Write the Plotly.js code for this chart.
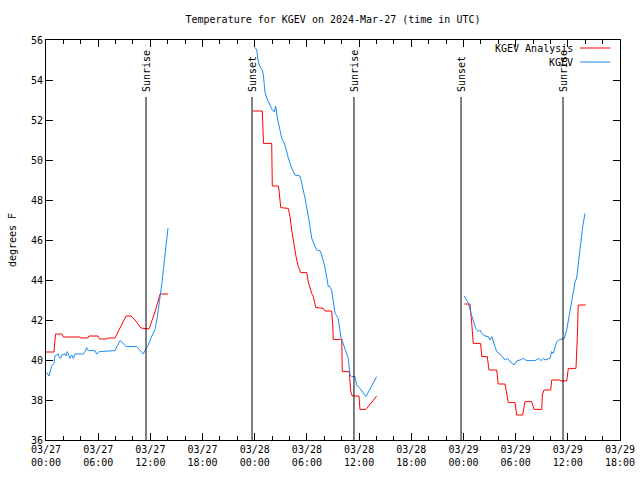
<!DOCTYPE html>
<html>
<head>
<meta charset="utf-8">
<script src="https://cdn.plot.ly/plotly-3.0.1.min.js"></script>
<style>html,body{margin:0;padding:0;background:#fff;}#chart{width:640px;height:480px;}</style>
</head>
<body>
<div id="chart"></div>
<script>
// Hours after 2024-03-27 00:00 UTC; null breaks the line between segments
const analysisHours = [
  0.0, 0.92, 1.09, 1.84, 2.01, 3.91, 4.02, 4.83, 4.94, 5.98, 6.15, 6.90, 7.13, 7.93, 8.51, 9.2, 9.77, 10.23, 10.92, 11.5, 11.84, 12.53, 13.11, 14.03,
  null,
  23.80, 24.87, 25.01, 25.95, 26.02, 26.71, 26.79, 26.99, 27.86, 28.06, 28.25, 28.52, 28.75, 29.01, 29.29, 29.98, 30.16, 30.55, 30.74, 31.01, 31.88, 32.08, 32.85, 32.97, 33.03, 34.0, 34.07, 34.87, 35.04, 35.22, 35.99, 36.10, 36.79, 38.02,
  null,
  48.1, 48.75, 48.95, 49.13, 49.98, 50.1, 50.74, 50.94, 51.82, 52.0, 52.78, 52.97, 53.16, 53.93, 54.12, 54.81, 55.08, 55.85, 56.11, 57.0, 57.07, 57.26, 58.03, 58.15, 59.1, 59.22, 59.87, 60.06, 60.94, 61.09, 61.2, 62.06
];
const analysisTemps = [
  40.4, 40.4, 41.3, 41.3, 41.15, 41.15, 41.1, 41.1, 41.2, 41.2, 41.05, 41.05, 41.1, 41.1, 41.6, 42.2, 42.2, 42.0, 41.6, 41.55, 41.55, 42.4, 43.3, 43.3,
  null,
  52.45, 52.45, 50.83, 50.83, 48.7, 48.7, 48.5, 47.62, 47.58, 47.17, 46.5, 45.75, 45.17, 44.67, 44.37, 44.37, 43.9, 43.33, 43.17, 42.63, 42.58, 42.45, 42.45, 41.75, 41.03, 41.03, 39.42, 39.42, 38.42, 38.2, 38.2, 37.53, 37.53, 38.2,
  null,
  42.8, 42.8, 41.83, 40.83, 40.83, 40.17, 40.17, 39.5, 39.5, 38.8, 38.8, 38.25, 37.87, 37.87, 37.25, 37.25, 37.92, 37.92, 37.53, 37.53, 38.25, 38.5, 38.5, 39.0, 39.0, 38.95, 38.95, 39.58, 39.58, 41.13, 42.75, 42.75
];
const obsHours = [
  0.08, 0.34, 0.66, 0.92, 1.03, 1.23, 1.41, 1.53, 1.69, 1.81, 2.18, 2.30, 2.45, 2.61, 2.76, 2.96, 3.14, 3.33, 4.29, 4.48, 4.68, 4.86, 5.63, 5.83, 6.13, 7.93, 8.2, 8.51, 8.82, 9.2, 10.43, 10.81, 11.19, 11.5, 11.76, 12.15, 12.53, 12.8, 13.03, 13.19, 13.37, 13.68, 14.03,
  null,
  24.03, 24.23, 24.34, 24.49, 24.69, 24.87, 24.99, 25.18, 25.38, 25.76, 26.02, 26.25, 26.41, 26.6, 26.91, 27.1, 27.48, 27.86, 28.25, 28.63, 29.21, 29.4, 29.78, 30.16, 30.55, 30.93, 31.13, 31.5, 31.7, 32.08, 32.46, 32.57, 32.85, 33.23, 33.61, 33.89, 34.18, 34.57, 34.76, 34.95, 35.15, 35.53, 35.72, 36.1, 36.79, 38.02,
  null,
  48.10, 48.26, 48.56, 48.87, 49.13, 49.41, 49.71, 49.9, 50.1, 50.48, 50.86, 51.05, 51.25, 51.43, 51.63, 51.82, 52.2, 52.58, 52.78, 53.09, 53.35, 53.85, 54.12, 54.5, 54.88, 55.27, 56.23, 56.61, 56.92, 57.18, 57.38, 57.95, 58.15, 58.33, 58.72, 58.99, 59.37, 59.6, 59.87, 60.06, 60.25, 60.52, 60.83, 61.02, 61.2, 61.4, 61.6, 61.71, 61.98
];
const obsTemps = [
  39.38, 39.2, 39.7, 39.83, 40.2, 40.25, 40.3, 40.13, 40.08, 40.25, 40.3, 40.2, 40.42, 40.25, 40.08, 40.25, 40.08, 40.3, 40.3, 40.42, 40.62, 40.47, 40.47, 40.3, 40.42, 40.47, 40.67, 40.97, 40.87, 40.67, 40.67, 40.47, 40.3, 40.58, 40.75, 41.17, 41.53, 42.13, 42.83, 43.3, 44.0, 45.25, 46.6,
  null,
  55.63, 55.5, 55.1, 54.8, 54.6, 54.5, 54.25, 53.4, 53.1, 52.75, 52.5, 52.4, 52.7, 52.1, 51.5, 51.1, 50.75, 50.1, 49.6, 49.25, 49.2, 48.85, 48.1, 47.2, 46.1, 45.67, 45.5, 45.47, 45.25, 44.63, 43.67, 43.7, 43.5, 42.33, 42.08, 41.17, 40.83, 40.33, 40.08, 39.25, 39.17, 39.17, 38.75, 38.58, 38.17, 39.17,
  null,
  43.2, 43.08, 42.83, 42.33, 42.0, 41.58, 41.42, 41.5, 41.33, 41.2, 41.17, 41.0, 41.17, 40.92, 40.67, 40.42, 40.3, 40.13, 40.0, 40.08, 39.92, 39.75, 39.95, 40.0, 40.08, 39.97, 39.97, 40.08, 39.97, 40.08, 40.0, 40.08, 40.42, 40.33, 40.92, 41.0, 41.03, 41.08, 41.5, 42.0, 42.5, 43.2, 43.9, 44.1, 44.75, 45.58, 46.08, 46.67, 47.33
];
const sunEventHours = [11.5, 23.69, 35.41, 47.72, 59.45];
const sunEventLabels = ['Sunrise', 'Sunset', 'Sunrise', 'Sunset', 'Sunrise'];
const xTickHours = [0, 6, 12, 18, 24, 30, 36, 42, 48, 54, 60, 66];
const xTickLabels = ['03/27<br>00:00', '03/27<br>06:00', '03/27<br>12:00', '03/27<br>18:00',
  '03/28<br>00:00', '03/28<br>06:00', '03/28<br>12:00', '03/28<br>18:00',
  '03/29<br>00:00', '03/29<br>06:00', '03/29<br>12:00', '03/29<br>18:00'];
const seriesNames = ['KGEV Analysis', 'KGEV'];
const seriesColors = ['#ff0000', '#1e8cf0'];

function toDate(h) {
  if (h === null) return null;
  const d = new Date(Date.UTC(2024, 2, 27) + Math.round(h * 3600000));
  return d.toISOString().slice(0, 19).replace('T', ' ');
}

const font = {family: 'DejaVu Sans Mono, monospace', size: 10, color: '#000'};

const traces = [
  {x: analysisHours.map(toDate), y: analysisTemps, name: seriesNames[0], mode: 'lines',
   line: {color: seriesColors[0], width: 1}, connectgaps: false, showlegend: false},
  {x: obsHours.map(toDate), y: obsTemps, name: seriesNames[1], mode: 'lines',
   line: {color: seriesColors[1], width: 1}, connectgaps: false, showlegend: false}
];

const shapes = [];
const annotations = [];
sunEventHours.forEach((h, i) => {
  shapes.push({type: 'line', xref: 'x', yref: 'y', x0: toDate(h), x1: toDate(h), y0: 36, y1: 53.15,
    line: {color: '#000', width: 1}});
  annotations.push({xref: 'x', yref: 'y', x: toDate(h), y: 53.3, text: sunEventLabels[i],
    textangle: -90, showarrow: false, xanchor: 'center', yanchor: 'bottom', font: font});
});
// gnuplot-style legend (text on the left, sample line on the right)
seriesNames.forEach((n, i) => {
  const yp = i === 0 ? 0.98 : 0.945;
  annotations.push({xref: 'paper', yref: 'paper', x: 0.9216, y: yp, text: n, showarrow: false,
    xanchor: 'right', yanchor: 'middle', font: font});
  shapes.push({type: 'line', xref: 'paper', yref: 'paper', x0: 0.930, x1: 0.983, y0: yp, y1: yp,
    line: {color: seriesColors[i], width: 1}});
});

const layout = {
  width: 640, height: 480,
  margin: {l: 46, r: 20, t: 40, b: 40},
  paper_bgcolor: '#fff', plot_bgcolor: '#fff',
  font: font,
  showlegend: false,
  title: {text: 'Temperature for KGEV on 2024-Mar-27 (time in UTC)', font: font,
    x: 0.5, xref: 'paper', y: 1 - 19 / 480, yref: 'container', yanchor: 'middle'},
  xaxis: {
    type: 'date', range: [toDate(0), toDate(66)],
    tickvals: xTickHours.map(toDate), ticktext: xTickLabels,
    ticks: 'inside', ticklen: 7, tickcolor: '#000', tickwidth: 1,
    minor: {dtick: 7200000, ticks: 'inside', ticklen: 4, tickcolor: '#000', tickwidth: 1},
    showline: true, linecolor: '#000', linewidth: 1, mirror: 'ticks',
    showgrid: false, zeroline: false, tickfont: font
  },
  yaxis: {
    range: [36, 56], dtick: 2, tick0: 36,
    ticks: 'inside', ticklen: 7, tickcolor: '#000', tickwidth: 1,
    showline: true, linecolor: '#000', linewidth: 1, mirror: 'ticks',
    showgrid: false, zeroline: false, tickfont: font,
    title: {text: 'degrees F', font: font, standoff: 12}
  },
  shapes: shapes,
  annotations: annotations
};

Plotly.newPlot('chart', traces, layout, {staticPlot: true, displayModeBar: false});
</script>
</body>
</html>
